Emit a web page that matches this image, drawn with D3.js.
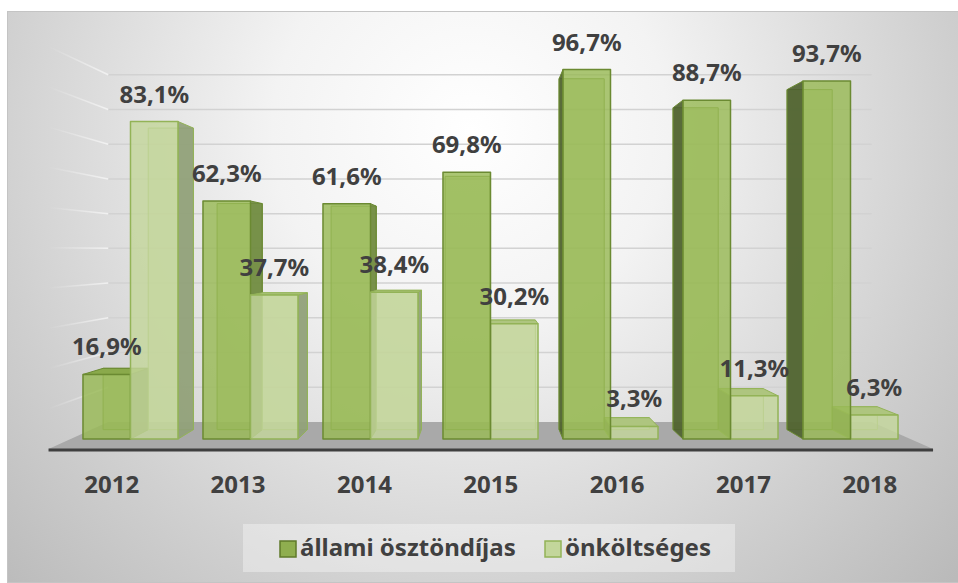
<!DOCTYPE html>
<html>
<head>
<meta charset="utf-8">
<script src="https://cdn.jsdelivr.net/npm/d3@7"></script>
<style>
	body { margin: 0; background: #fff; }
	text { font-family: "Noto Sans", "Open Sans", sans-serif; font-weight: bold; fill: #404040; }
</style>
</head>
<body>
<svg id="chart" width="958" height="583"></svg>
<script>
const years = ["2012", "2013", "2014", "2015", "2016", "2017", "2018"];
const allami = [16.9, 62.3, 61.6, 69.8, 96.7, 88.7, 93.7];
const onkoltseges = [83.1, 37.7, 38.4, 30.2, 3.3, 11.3, 6.3];
const series_names = ["állami ösztöndíjas", "önköltséges"];
const grid_values = [10, 20, 30, 40, 50, 60, 70, 80, 90, 100];

const color_dict = {
	allami: { front: "#98b955", edge: "#6b8a32", top: "#8aa94b", side: "#6f8a3f", side_dark: "#4d5f2e" },
	onk: { front: "#c3d69b", edge: "#93b357", top: "#aec57f", side: "#8f9e78", side_dark: "#7d9356" },
};

const fmt = (v) => v.toFixed(1).replace(".", ",") + "%";

// perspective: everything shrinks towards the vanishing point
const vx = 485;
const vy = 252;
const s_wall = 0.909;
const s_back = 0.95;
const s_floor = 1.053;
function proj(px, py, s) {
	return [vx + (px - vx) * s, vy + (py - vy) * s];
}
const path = (pts) => d3.line()(pts) + "Z";

const svg = d3.select("#chart");

const x = d3
	.scaleBand()
	.domain(years)
	.range([70.5, 910.5])
	.paddingInner(0.208)
	.paddingOuter(0.104);
const xs = d3.scaleBand().domain(series_names).range([0, x.bandwidth()]);
const y = d3.scaleLinear().domain([0, 100]).range([439, 57]);

const [xl, xr] = x.range();
const y0 = y(0);

// background
const defs = svg.append("defs");
const bg = defs
	.append("radialGradient")
	.attr("id", "bg")
	.attr("gradientUnits", "userSpaceOnUse")
	.attr("cx", 470)
	.attr("cy", 130)
	.attr("r", 660);
bg.append("stop").attr("offset", 0).attr("stop-color", "#ffffff");
bg.append("stop").attr("offset", 0.3).attr("stop-color", "#f3f3f3");
bg.append("stop").attr("offset", 0.72).attr("stop-color", "#d0d0d0");
bg.append("stop").attr("offset", 1).attr("stop-color", "#bababa");

// side grid lines fade out towards the front
const fade = defs
	.append("linearGradient")
	.attr("id", "fade")
	.attr("gradientUnits", "userSpaceOnUse")
	.attr("x1", proj(xl, 0, s_wall)[0])
	.attr("x2", proj(xl, 0, s_floor)[0])
	.attr("y1", 0)
	.attr("y2", 0);
fade.append("stop").attr("offset", 0).attr("stop-color", "#ffffff").attr("stop-opacity", 0.6);
fade.append("stop").attr("offset", 1).attr("stop-color", "#ffffff").attr("stop-opacity", 0);

svg
	.append("rect")
	.attr("x", 7.5)
	.attr("y", 11.5)
	.attr("width", 951)
	.attr("height", 571)
	.attr("fill", "url(#bg)")
	.attr("stroke", "#c4c4c4");

// floor
svg
	.append("path")
	.attr("d", path([proj(xl, y0, s_wall), proj(xr, y0, s_wall), proj(xr, y0, s_floor), proj(xl, y0, s_floor)]))
	.attr("fill", "#a9a9a9");

svg
	.append("line")
	.attr("x1", proj(xl, y0, s_floor)[0])
	.attr("x2", proj(xr, y0, s_floor)[0])
	.attr("y1", proj(xl, y0, s_floor)[1] + 1)
	.attr("y2", proj(xr, y0, s_floor)[1] + 1)
	.attr("stroke", "#3f3f3f")
	.attr("stroke-width", 3);

// gridlines on the back wall + side wall
const grid = svg.append("g");
grid
	.selectAll("line.back")
	.data(grid_values)
	.join("line")
	.attr("class", "back")
	.attr("x1", (d) => proj(xl, y(d), s_wall)[0])
	.attr("x2", (d) => proj(xr, y(d), s_wall)[0])
	.attr("y1", (d) => proj(xl, y(d), s_wall)[1])
	.attr("y2", (d) => proj(xr, y(d), s_wall)[1])
	.attr("stroke", "#d2d2d2")
	.attr("stroke-width", 1.5);

grid
	.selectAll("line.side")
	.data(grid_values)
	.join("line")
	.attr("class", "side")
	.attr("x1", (d) => proj(xl, y(d), s_wall)[0])
	.attr("x2", (d) => proj(xl, y(d), s_floor)[0])
	.attr("y1", (d) => proj(xl, y(d), s_wall)[1])
	.attr("y2", (d) => proj(xl, y(d), s_floor)[1])
	.attr("stroke", "url(#fade)")
	.attr("stroke-width", 1.5);

// bars
const bars = [];
years.forEach((yr, i) => {
	[allami[i], onkoltseges[i]].forEach((v, j) => {
		const x0 = x(yr) + xs(series_names[j]);
		bars.push({
			year: yr,
			value: v,
			key: j === 0 ? "allami" : "onk",
			x0: x0,
			x1: x0 + xs.bandwidth(),
		});
	});
});
// far from the vanishing point first
bars.sort((a, b) => Math.abs(b.x0 + b.x1 - 2 * vx) - Math.abs(a.x0 + a.x1 - 2 * vx));

const bar_g = svg.append("g");
bars.forEach((b) => {
	const c = color_dict[b.key];
	const yt = y(b.value);
	const g = bar_g.append("g").attr("stroke-linejoin", "round");

	const back = [proj(b.x0, yt, s_back), proj(b.x1, yt, s_back), proj(b.x1, y0, s_back), proj(b.x0, y0, s_back)];
	g.append("path").attr("d", path(back)).attr("fill", c.front).attr("fill-opacity", 0.5).attr("stroke", c.edge).attr("stroke-width", 1);

	const cx = (b.x0 + b.x1) / 2;
	const ex = cx < vx ? b.x1 : b.x0;
	g.append("path")
		.attr("d", path([[ex, yt], proj(ex, yt, s_back), proj(ex, y0, s_back), [ex, y0]]))
		.attr("fill", cx < vx ? c.side : c.side_dark)
		.attr("fill-opacity", 0.9)
		.attr("stroke", c.edge)
		.attr("stroke-width", 1);

	if (yt > vy) {
		g.append("path")
			.attr("d", path([[b.x0, yt], [b.x1, yt], proj(b.x1, yt, s_back), proj(b.x0, yt, s_back)]))
			.attr("fill", c.top)
			.attr("stroke", c.edge)
			.attr("stroke-width", 1);
	}

	g.append("rect")
		.attr("x", b.x0)
		.attr("y", yt)
		.attr("width", b.x1 - b.x0)
		.attr("height", y0 - yt)
		.attr("fill", c.front)
		.attr("fill-opacity", 0.82)
		.attr("stroke", c.edge)
		.attr("stroke-width", 1.5);
});

// value labels
svg
	.append("g")
	.attr("font-size", 24)
	.attr("text-anchor", "middle")
	.selectAll("text")
	.data(bars)
	.join("text")
	.attr("x", (d) => (d.x0 + d.x1) / 2)
	.attr("y", (d) => y(d.value) - 19)
	.text((d) => fmt(d.value));

// category labels on the front edge of the floor
svg
	.append("g")
	.attr("font-size", 24)
	.attr("text-anchor", "middle")
	.selectAll("text")
	.data(years)
	.join("text")
	.attr("x", (d) => proj(x(d) + x.bandwidth() / 2, y0, s_floor)[0])
	.attr("y", 493)
	.text((d) => d);

// legend
const legend = svg.append("g");
legend
	.append("rect")
	.attr("x", 243)
	.attr("y", 524)
	.attr("width", 492)
	.attr("height", 48)
	.attr("fill", "#ffffff")
	.attr("fill-opacity", 0.35);

const leg_items = [
	{ name: series_names[0], x: 280, fill: "#8fae4f", stroke: "#5f7a2a" },
	{ name: series_names[1], x: 545, fill: "#c3d69b", stroke: "#93b357" },
];
const item = legend.selectAll("g").data(leg_items).join("g");
item
	.append("rect")
	.attr("x", (d) => d.x)
	.attr("y", 541)
	.attr("width", 16)
	.attr("height", 16)
	.attr("fill", (d) => d.fill)
	.attr("stroke", (d) => d.stroke)
	.attr("stroke-width", 1.5);
item
	.append("text")
	.attr("x", (d) => d.x + 20)
	.attr("y", 556)
	.attr("font-size", 24)
	.text((d) => d.name);
</script>
</body>
</html>
